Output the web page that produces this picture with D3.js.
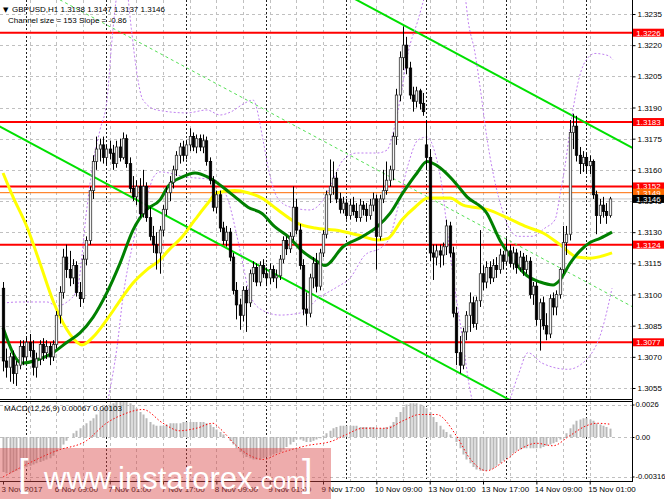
<!DOCTYPE html>
<html><head><meta charset="utf-8">
<script src="https://cdn.jsdelivr.net/npm/d3@7"></script>
<style>
body{margin:0;background:#fff;overflow:hidden;}
svg{display:block;font-family:"Liberation Sans",Arial,sans-serif;}
</style></head><body>
<svg id="c" width="665" height="499"></svg>
<script>
// ---------- DATA ----------
const symbolTitle = "GBPUSD,H1  1.3138 1.3147 1.3137 1.3146";
const channelText = "Channel size = 153 Slope = -0.86";
const macdTitle = "MACD(12,26,9) 0.00067 0.00103";
const opens = [1.3103,1.3068,1.3065,1.3070,1.3062,1.3066,1.3075,1.3070,1.3077,1.3073,1.3065,1.3069,1.3076,1.3072,1.3075,1.3070,1.3076,1.3090,1.3101,1.3118,1.3112,1.3108,1.3114,1.3101,1.3098,1.3117,1.3126,1.3150,1.3164,1.3170,1.3172,1.3166,1.3170,1.3168,1.3163,1.3171,1.3166,1.3175,1.3163,1.3151,1.3147,1.3152,1.3139,1.3152,1.3137,1.3128,1.3124,1.3120,1.3131,1.3141,1.3149,1.3154,1.3160,1.3167,1.3171,1.3167,1.3172,1.3176,1.3171,1.3175,1.3171,1.3174,1.3164,1.3155,1.3142,1.3148,1.3132,1.3126,1.3130,1.3118,1.3102,1.3095,1.3090,1.3102,1.3096,1.3110,1.3113,1.3106,1.3114,1.3110,1.3108,1.3112,1.3108,1.3109,1.3117,1.3126,1.3122,1.3128,1.3142,1.3131,1.3114,1.3093,1.3091,1.3108,1.3115,1.3104,1.3120,1.3129,1.3148,1.3152,1.3156,1.3146,1.3141,1.3144,1.3138,1.3143,1.3140,1.3137,1.3143,1.3141,1.3138,1.3143,1.3146,1.3128,1.3146,1.3150,1.3155,1.3160,1.3176,1.3196,1.3214,1.3220,1.3209,1.3196,1.3193,1.3198,1.3192,1.3172,1.3166,1.3120,1.3118,1.3121,1.3119,1.3123,1.3133,1.3120,1.3091,1.3072,1.3066,1.3082,1.3090,1.3096,1.3086,1.3097,1.3110,1.3106,1.3113,1.3108,1.3114,1.3112,1.3119,1.3116,1.3121,1.3115,1.3120,1.3113,1.3118,1.3112,1.3116,1.3100,1.3104,1.3088,1.3096,1.3085,1.3081,1.3098,1.3094,1.3100,1.3112,1.3125,1.3129,1.3178,1.3181,1.3167,1.3163,1.3166,1.3162,1.3164,1.3148,1.3138,1.3143,1.3140,1.3138];
const highs = [1.3106,1.3074,1.3072,1.3073,1.3068,1.3078,1.3078,1.3080,1.3081,1.3078,1.3072,1.3078,1.3079,1.3078,1.3077,1.3078,1.3092,1.3104,1.3122,1.3124,1.3121,1.3117,1.3116,1.3106,1.3119,1.3128,1.3152,1.3167,1.3176,1.3175,1.3176,1.3172,1.3174,1.3172,1.3174,1.3175,1.3178,1.3177,1.3166,1.3157,1.3155,1.3156,1.3160,1.3154,1.3142,1.3133,1.3130,1.3133,1.3143,1.3152,1.3157,1.3162,1.3169,1.3173,1.3174,1.3174,1.3180,1.3178,1.3177,1.3177,1.3177,1.3176,1.3166,1.3157,1.3150,1.3150,1.3135,1.3133,1.3132,1.3120,1.3106,1.3098,1.3104,1.3104,1.3112,1.3116,1.3115,1.3116,1.3117,1.3113,1.3115,1.3114,1.3112,1.3119,1.3128,1.3128,1.3130,1.3152,1.3146,1.3134,1.3117,1.3101,1.3110,1.3118,1.3120,1.3122,1.3131,1.3150,1.3165,1.3164,1.3159,1.3149,1.3147,1.3146,1.3146,1.3147,1.3144,1.3146,1.3145,1.3144,1.3146,1.3149,1.3148,1.3148,1.3160,1.3164,1.3162,1.3178,1.3199,1.3217,1.3229,1.3224,1.3212,1.3200,1.3200,1.3199,1.3197,1.3184,1.3170,1.3124,1.3124,1.3124,1.3125,1.3136,1.3135,1.3123,1.3094,1.3080,1.3084,1.3092,1.3101,1.3099,1.3099,1.3131,1.3114,1.3116,1.3116,1.3117,1.3118,1.3122,1.3121,1.3127,1.3124,1.3123,1.3122,1.3121,1.3120,1.3119,1.3118,1.3106,1.3106,1.3098,1.3099,1.3091,1.3100,1.3101,1.3102,1.3113,1.3133,1.3133,1.3184,1.3187,1.3186,1.3171,1.3169,1.3168,1.3167,1.3165,1.3150,1.3146,1.3147,1.3144,1.3147];
const lows = [1.3063,1.3060,1.3058,1.3057,1.3056,1.3064,1.3066,1.3068,1.3070,1.3061,1.3060,1.3066,1.3068,1.3069,1.3066,1.3068,1.3074,1.3086,1.3098,1.3108,1.3104,1.3105,1.3099,1.3094,1.3096,1.3114,1.3124,1.3146,1.3160,1.3164,1.3163,1.3162,1.3165,1.3160,1.3161,1.3164,1.3165,1.3161,1.3149,1.3145,1.3143,1.3137,1.3137,1.3135,1.3126,1.3120,1.3112,1.3110,1.3128,1.3138,1.3145,1.3151,1.3157,1.3163,1.3164,1.3165,1.3169,1.3169,1.3168,1.3169,1.3168,1.3162,1.3153,1.3140,1.3139,1.3130,1.3124,1.3123,1.3116,1.3100,1.3088,1.3083,1.3087,1.3082,1.3094,1.3106,1.3104,1.3104,1.3108,1.3104,1.3105,1.3106,1.3103,1.3107,1.3115,1.3119,1.3120,1.3126,1.3129,1.3112,1.3090,1.3085,1.3089,1.3103,1.3101,1.3102,1.3118,1.3127,1.3144,1.3148,1.3144,1.3139,1.3139,1.3136,1.3136,1.3138,1.3135,1.3135,1.3138,1.3135,1.3136,1.3140,1.3112,1.3126,1.3144,1.3148,1.3152,1.3155,1.3172,1.3193,1.3208,1.3206,1.3194,1.3188,1.3190,1.3189,1.3186,1.3160,1.3116,1.3107,1.3114,1.3113,1.3114,1.3119,1.3118,1.3089,1.3066,1.3062,1.3064,1.3078,1.3082,1.3084,1.3083,1.3094,1.3102,1.3103,1.3105,1.3106,1.3108,1.3110,1.3112,1.3114,1.3113,1.3112,1.3110,1.3111,1.3109,1.3110,1.3098,1.3095,1.3085,1.3073,1.3083,1.3078,1.3079,1.3090,1.3090,1.3098,1.3110,1.3119,1.3126,1.3170,1.3164,1.3158,1.3159,1.3158,1.3158,1.3146,1.3129,1.3134,1.3137,1.3134,1.3137];
const closes = [1.3068,1.3065,1.3070,1.3062,1.3066,1.3075,1.3070,1.3077,1.3073,1.3065,1.3069,1.3076,1.3072,1.3075,1.3070,1.3076,1.3090,1.3101,1.3118,1.3112,1.3108,1.3114,1.3101,1.3098,1.3117,1.3126,1.3150,1.3164,1.3170,1.3172,1.3166,1.3170,1.3168,1.3163,1.3171,1.3166,1.3175,1.3163,1.3151,1.3147,1.3152,1.3139,1.3152,1.3137,1.3128,1.3124,1.3120,1.3131,1.3141,1.3149,1.3154,1.3160,1.3167,1.3171,1.3167,1.3172,1.3176,1.3171,1.3175,1.3171,1.3174,1.3164,1.3155,1.3142,1.3148,1.3132,1.3126,1.3130,1.3118,1.3102,1.3095,1.3090,1.3102,1.3096,1.3110,1.3113,1.3106,1.3114,1.3110,1.3108,1.3112,1.3108,1.3109,1.3117,1.3126,1.3122,1.3128,1.3142,1.3131,1.3114,1.3093,1.3091,1.3108,1.3115,1.3104,1.3120,1.3129,1.3148,1.3152,1.3156,1.3146,1.3141,1.3144,1.3138,1.3143,1.3140,1.3137,1.3143,1.3141,1.3138,1.3143,1.3146,1.3128,1.3146,1.3150,1.3155,1.3160,1.3176,1.3196,1.3214,1.3220,1.3209,1.3196,1.3193,1.3198,1.3192,1.3188,1.3166,1.3120,1.3118,1.3121,1.3119,1.3123,1.3133,1.3120,1.3091,1.3072,1.3066,1.3082,1.3090,1.3096,1.3086,1.3097,1.3110,1.3106,1.3113,1.3108,1.3114,1.3112,1.3119,1.3116,1.3121,1.3115,1.3120,1.3113,1.3118,1.3112,1.3116,1.3100,1.3104,1.3088,1.3096,1.3085,1.3081,1.3098,1.3094,1.3100,1.3112,1.3125,1.3129,1.3178,1.3181,1.3167,1.3163,1.3166,1.3162,1.3164,1.3148,1.3138,1.3143,1.3140,1.3138,1.3146];

// moving averages: [bar, price]
const maGreen = [[0,1.3084],[5.7,1.3067],[10.2,1.30685],[15,1.3072],[19.2,1.3077],[23.1,1.30815],[27,1.3089],[31.2,1.3101],[35.1,1.3115],[39,1.3131],[43.2,1.3141],[47.1,1.31455],[49.5,1.3152],[53.7,1.31565],[57.6,1.31585],[61.5,1.31565],[65.7,1.3152],[69.6,1.3147],[73.5,1.3142],[77.7,1.3139],[81.6,1.31325],[85.5,1.3128],[89.7,1.3121],[93.6,1.31166],[96.6,1.3114],[102,1.3123],[108,1.3128],[112.2,1.31325],[116.1,1.3139],[120,1.3149],[124.2,1.31585],[127.2,1.3164],[131.1,1.3161],[135,1.3155],[139.2,1.3147],[145.2,1.3139],[149.1,1.3126],[153,1.31166],[157.2,1.3109],[161.1,1.3106],[165,1.31046],[167.1,1.3107],[170.1,1.3115],[173.1,1.3121],[176.1,1.3125],[179.1,1.3127],[182.7,1.3130]];
const maYellow = [[0,1.31585],[3,1.3147],[7.2,1.31325],[11.1,1.3115],[15,1.3097],[19.2,1.3083],[22.2,1.3077],[23.7,1.30757],[27,1.30795],[31.2,1.3088],[35.1,1.3097],[39,1.31055],[43.2,1.3112],[47.1,1.31166],[49.5,1.3121],[53.7,1.31277],[57.6,1.3136],[61.5,1.3144],[64.2,1.3149],[69.6,1.3150],[73.5,1.3149],[77.7,1.31464],[82.2,1.3141],[88.2,1.31344],[93.6,1.3132],[99.6,1.3131],[106.5,1.31286],[112.5,1.31262],[115.5,1.3127],[119.7,1.3136],[123.6,1.3142],[127.5,1.31464],[134.1,1.31464],[138,1.3143],[145.2,1.3141],[151.2,1.3137],[157.2,1.31325],[162,1.31296],[167.1,1.3124],[172.2,1.3118],[176.1,1.31175],[182.7,1.3120]];
// dashed violet band lines: [bar, price]
const bandUpper = [[0,1.30959],[5.1,1.30964],[13.2,1.30964],[16.2,1.30945],[19.2,1.30964],[22.2,1.31022],[25.2,1.31421],[27,1.31633],[29.1,1.31792],[31.2,1.31936],[32.7,1.32225],[34.2,1.32441],[36.5,1.3252],[38.5,1.3228],[39.6,1.3213],[42,1.31936],[46.2,1.31888],[55.2,1.31874],[61.2,1.31888],[65.1,1.31864],[68.5,1.3188],[72.6,1.31922],[75,1.31936],[78,1.31744],[79.5,1.31614],[82.2,1.31469],[86.1,1.31421],[92.1,1.31407],[96,1.31455],[99,1.31551],[102,1.31647],[106.2,1.31681],[112.2,1.31681],[115.2,1.31695],[117,1.31777],[119.1,1.31936],[121.5,1.32162],[124.5,1.32321],[126.6,1.32441],[128,1.3252]];
const bandUpper2 = [[137.5,1.3252],[138.6,1.32441],[139.5,1.32321],[141.6,1.32162],[143.1,1.3200],[145.2,1.3175],[147.6,1.3154],[149.7,1.3141],[151.5,1.3133],[154.5,1.3128],[158.7,1.3128],[162.6,1.3132],[165.6,1.3136],[167.1,1.3148],[168.6,1.3162],[170.7,1.3186],[172.5,1.3202],[174.6,1.3212],[177.6,1.3216],[181.5,1.3215],[183,1.3213]];
const bandLower = [[31.5,1.30492],[34.2,1.30747],[36,1.30988],[39,1.31248],[41.1,1.31392],[43.2,1.31469],[45,1.31561],[47.1,1.3159],[55.2,1.31565],[63.6,1.31551],[67.5,1.31455],[71.1,1.31214],[74.1,1.30998],[77.7,1.30925],[83.1,1.30901],[89.1,1.30911],[95.1,1.30988],[100.2,1.31036],[104.1,1.31079],[108.6,1.3119],[113.7,1.31229],[116.1,1.31277],[118.5,1.31421],[121.5,1.31623],[124.5,1.31744],[127.2,1.31758],[129.6,1.31681],[131.7,1.31517],[133.5,1.31277],[135.6,1.31022],[137.7,1.30805],[140.1,1.3054],[142.5,1.3040]];
const bandLower2 = [[145.5,1.3040],[150.5,1.3044],[154.5,1.3061],[157.5,1.3072],[161.7,1.3067],[169.5,1.3064],[174.6,1.3068],[179.7,1.3083],[182.7,1.3103]];
// MACD(12,26,9): main line (histogram) per bar, and signal line points
const macdMain = [-0.0028,-0.0029,-0.0029,-0.0028,-0.0027,-0.0026,-0.0025,-0.0024,-0.0023,-0.0022,-0.0021,-0.0020,-0.0019,-0.0018,-0.0017,-0.0015,
-0.0012,-0.0009,-0.0006,-0.0003,0.0000,0.0003,0.0005,0.0007,0.0009,0.0011,0.0013,0.0015,0.0018,0.0021,0.0023,
0.0025,0.0026,0.0027,0.0028,0.0028,0.0028,0.0028,0.0027,0.0025,0.0023,0.0020,0.0018,0.0015,0.0012,0.0010,
0.0009,0.0009,0.0009,0.0010,0.0011,0.0011,0.0011,0.0011,0.0012,0.0012,0.0012,0.0012,0.0012,0.0012,0.0012,
0.0011,0.0010,0.0008,0.0006,0.0004,0.0002,0.0000,-0.0003,-0.0006,-0.0009,-0.0012,-0.0014,-0.0016,-0.0017,-0.0018,
-0.0018,-0.0018,-0.0017,-0.0016,-0.0015,-0.0014,-0.0013,-0.0012,-0.0010,-0.0008,-0.0006,-0.0004,-0.0002,-0.0002,-0.0003,
-0.0004,-0.0004,-0.0003,-0.0002,-0.0001,0.0001,0.0003,0.0005,0.0007,0.0008,0.0009,0.0009,0.0009,0.0009,0.0009,
0.0009,0.0008,0.0008,0.0008,0.0008,0.0008,0.0007,0.0007,0.0007,0.0008,0.0009,0.0012,0.0016,0.0020,0.0024,
0.0026,0.0027,0.0027,0.0027,0.0026,0.0025,0.0023,0.0020,0.0016,0.0012,0.0009,0.0006,0.0004,0.0002,0.0000,
-0.0004,-0.0009,-0.0014,-0.0018,-0.0021,-0.0024,-0.0026,-0.0027,-0.0027,-0.0027,-0.0026,-0.0025,-0.0023,-0.0021,-0.0019,
-0.0017,-0.0015,-0.0013,-0.0011,-0.0010,-0.0009,-0.0009,-0.0009,-0.0009,-0.0009,-0.0009,-0.0008,-0.0007,-0.0006,-0.0005,
-0.0004,-0.0002,0.0000,0.0003,0.0007,0.0010,0.0013,0.0014,0.0015,0.0015,0.0014,0.0013,0.0011,0.0010,0.0009,0.0008,0.00067];
const macdSignal = [[0,-0.0032],[7,-0.0022],[16,-0.0011],[25,-0.0003],[31,0.0011],[36,0.0018],[42,0.0022],[48,0.0011],[53,0.0005],[58,0.0007],[63,0.0011],[65,0.0007],[70,-0.0007],[76,-0.0017],[78,-0.0018],[83,-0.0013],[91,-0.0007],[99,-0.0003],[103,0.0002],[108,0.0007],[115,0.0007],[120,0.0013],[125,0.0018],[130,0.0018],[136,0.0001],[140,-0.0017],[145,-0.0027],[150,-0.0020],[155,-0.0010],[160,-0.0005],[165,-0.0007],[170,0.0001],[175,0.0009],[178,0.0011],[182,0.00103]];
// levels
const redLevels = [1.3226,1.3183,1.3152,1.3124,1.3077];
const orangeLevel = 1.3149;
const bidLevel = 1.3146;
// channel (lower line at bar 0, slope per bar, width)
const channelLower0 = 1.3180, channelSlope = -0.000086, channelSize = 0.0153;
// axes
const priceTicks = [1.3235,1.3220,1.3205,1.3190,1.3175,1.3160,1.3145,1.3130,1.3115,1.3100,1.3085,1.3070,1.3055];
const macdTicks = [0.0026,0,-0.00316];
const macdTickLabels = ["0.0026","0.00","-0.00316"];
const timeBars = [0,16,32,48,64,80,96,112,128,144,160,176];
const timeLabels = ["3 Nov 2017","6 Nov 09:00","7 Nov 01:00","7 Nov 17:00","8 Nov 09:00","9 Nov 01:00","9 Nov 17:00","10 Nov 09:00","13 Nov 01:00","13 Nov 17:00","14 Nov 09:00","15 Nov 01:00"];
const daySeparators = [7,31,55,79,103,127,151,175];
const gridBars = [8,16,24,32,40,48,56,64,72,80,88,96,104,112,120,128,136,144,152,160,168,176];

// ---------- DRAW ----------
const svg = d3.select("#c");
const R = 632, MB = 399, MT = 401, BB = 481;
const x = d3.scaleLinear().domain([0,182]).range([3,609.7]);
const y = d3.scaleLinear().domain([1.3055,1.3235]).range([388,14]);
const ym = d3.scaleLinear().domain([-0.00316,0.0026]).range([476.5,404.5]);

svg.append("rect").attr("width",665).attr("height",499).attr("fill","#fff");
const defs = svg.append("defs");
defs.append("clipPath").attr("id","cm").append("rect").attr("x",0).attr("y",0).attr("width",R).attr("height",MB);
defs.append("clipPath").attr("id","cd").append("rect").attr("x",0).attr("y",MT).attr("width",R).attr("height",BB-MT);

const main = svg.append("g").attr("clip-path","url(#cm)");
const sub = svg.append("g").attr("clip-path","url(#cd)");

// grid
main.selectAll(".hg").data(priceTicks).join("line")
  .attr("x1",0).attr("x2",R).attr("y1",d=>Math.round(y(d))+0.5).attr("y2",d=>Math.round(y(d))+0.5)
  .attr("stroke","#c0c0c0").attr("stroke-dasharray","3,3");
[main,sub].forEach((g,k)=>{
  const y1 = k? MT : 0, y2 = k? BB : MB;
  g.selectAll(".vg").data(gridBars).join("line")
    .attr("x1",d=>Math.round(x(d))+0.5).attr("x2",d=>Math.round(x(d))+0.5).attr("y1",y1).attr("y2",y2)
    .attr("stroke","#c0c0c0").attr("stroke-dasharray","3,3");
  g.selectAll(".ds").data(daySeparators).join("line")
    .attr("x1",d=>Math.round(x(d))+0.5).attr("x2",d=>Math.round(x(d))+0.5).attr("y1",y1).attr("y2",y2)
    .attr("stroke","#202020").attr("stroke-dasharray","2,2");
});
sub.selectAll(".mg").data(macdTicks).join("line")
  .attr("x1",0).attr("x2",R).attr("y1",d=>Math.round(ym(d))+0.5).attr("y2",d=>Math.round(ym(d))+0.5)
  .attr("stroke","#c0c0c0").attr("stroke-dasharray","3,3");

// levels
main.append("line").attr("x1",0).attr("x2",R).attr("y1",y(bidLevel)).attr("y2",y(bidLevel)).attr("stroke","#c8c8c8").attr("stroke-width",1);
main.append("line").attr("x1",0).attr("x2",R).attr("y1",y(orangeLevel)).attr("y2",y(orangeLevel)).attr("stroke","#ff6a00").attr("stroke-width",1);
main.selectAll(".rl").data(redLevels).join("line")
  .attr("x1",0).attr("x2",R).attr("y1",d=>y(d)).attr("y2",d=>y(d)).attr("stroke","#ff0000").attr("stroke-width",2);

// channel
const chAt = (b,off)=>channelLower0+channelSlope*b+off;
const chLine = d3.line().x(d=>x(d[0])).y(d=>y(d[1]));
const chBars = [-2,200];
main.append("path").attr("d",chLine(chBars.map(b=>[b,chAt(b,0)]))).attr("stroke","#00e000").attr("stroke-width",2).attr("fill","none");
main.append("path").attr("d",chLine(chBars.map(b=>[b,chAt(b,channelSize)]))).attr("stroke","#00e000").attr("stroke-width",2).attr("fill","none");
main.append("path").attr("d",chLine(chBars.map(b=>[b,chAt(b,channelSize/2)]))).attr("stroke","#55e055").attr("stroke-width",1).attr("stroke-dasharray","3,3").attr("fill","none");

// bands
const curve = d3.line().x(d=>x(d[0])).y(d=>y(d[1])).curve(d3.curveMonotoneX);
[bandUpper,bandUpper2,bandLower,bandLower2].forEach(b=>{
  main.append("path").attr("d",curve(b)).attr("fill","none").attr("stroke","#c080f0").attr("stroke-width",1).attr("stroke-dasharray","2,2");
});

// MAs
main.append("path").attr("d",curve(maYellow)).attr("fill","none").attr("stroke","#ffff00").attr("stroke-width",3);
main.append("path").attr("d",curve(maGreen)).attr("fill","none").attr("stroke","#008000").attr("stroke-width",3);

// candles
const idx = d3.range(closes.length);
main.selectAll(".wk").data(idx).join("line")
  .attr("x1",i=>Math.round(x(i))+0.5).attr("x2",i=>Math.round(x(i))+0.5)
  .attr("y1",i=>y(highs[i])).attr("y2",i=>y(lows[i])).attr("stroke","#000").attr("stroke-width",1);
main.selectAll(".bd").data(idx).join("rect")
  .attr("x",i=>Math.round(x(i))-0.7).attr("width",2.4)
  .attr("y",i=>y(Math.max(opens[i],closes[i])))
  .attr("height",i=>Math.max(1,Math.abs(y(opens[i])-y(closes[i]))))
  .attr("fill",i=>closes[i]>=opens[i]?"#f4f4f4":"#000")
  .attr("stroke",i=>closes[i]>=opens[i]?"#333":"#000").attr("stroke-width",0.8);

// MACD
sub.selectAll(".hb").data(idx).join("rect")
  .attr("x",i=>Math.round(x(i))-0.5).attr("width",2)
  .attr("y",i=>Math.min(ym(0),ym(macdMain[i])))
  .attr("height",i=>Math.abs(ym(macdMain[i])-ym(0)))
  .attr("fill","#b8b8b8");
sub.append("path").attr("d",d3.line().x(d=>x(d[0])).y(d=>ym(d[1])).curve(d3.curveMonotoneX)(macdSignal))
  .attr("fill","none").attr("stroke","#ff0000").attr("stroke-width",1).attr("stroke-dasharray","1.5,2");

// frames
svg.append("line").attr("x1",R+0.5).attr("x2",R+0.5).attr("y1",0).attr("y2",BB).attr("stroke","#000");
svg.append("line").attr("x1",0).attr("x2",R).attr("y1",MB+0.5).attr("y2",MB+0.5).attr("stroke","#000");
svg.append("line").attr("x1",0).attr("x2",R).attr("y1",MT+0.5).attr("y2",MT+0.5).attr("stroke","#000");
svg.append("line").attr("x1",0).attr("x2",R+1).attr("y1",BB+0.5).attr("y2",BB+0.5).attr("stroke","#000");

// axes
const ay = svg.append("g").attr("transform",`translate(${R+0.5},0)`)
  .call(d3.axisRight(y).tickValues(priceTicks).tickFormat(d3.format(".4f")).tickSize(3).tickPadding(2));
ay.select(".domain").remove();
ay.selectAll("text").attr("font-size",8).attr("fill","#000").attr("font-family","Liberation Sans, Arial, sans-serif");
const am = svg.append("g").attr("transform",`translate(${R+0.5},0)`)
  .call(d3.axisRight(ym).tickValues(macdTicks).tickFormat((d,i)=>macdTickLabels[i]).tickSize(2).tickPadding(1));
am.select(".domain").remove();
am.selectAll("text").attr("font-size",7.6).attr("fill","#000").attr("font-family","Liberation Sans, Arial, sans-serif");
const ax = svg.append("g").attr("transform",`translate(0,${BB+0.5})`)
  .call(d3.axisBottom(x).tickValues(timeBars).tickFormat((d,i)=>timeLabels[i]).tickSize(3).tickPadding(2));
ax.select(".domain").remove();
ax.selectAll("text").attr("font-size",8).attr("fill","#000").attr("text-anchor","start").attr("dx",-2).attr("font-family","Liberation Sans, Arial, sans-serif");

// level labels at right axis
const boxes = redLevels.map(v=>({v,c:"#ff0000"}));
boxes.splice(3,0,{v:orangeLevel,c:"#ff6a00"},{v:bidLevel,c:"#000"});
const bx = svg.selectAll(".bx").data(boxes).join("g").attr("transform",d=>`translate(${R+1},${y(d.v)})`);
bx.append("rect").attr("x",0).attr("y",-4).attr("width",31).attr("height",8).attr("fill",d=>d.c);
bx.append("text").attr("x",15.5).attr("y",3).attr("text-anchor","middle").attr("font-size",8).attr("fill","#fff").text(d=>d.v.toFixed(4));

// header texts
svg.append("text").attr("x",3).attr("y",12).attr("font-size",7).attr("font-family","DejaVu Sans").text("▼");
svg.append("text").attr("x",12).attr("y",12).attr("font-size",8).text(symbolTitle);
svg.append("text").attr("x",8).attr("y",23).attr("font-size",8).text(channelText);
svg.append("text").attr("x",4).attr("y",411).attr("font-size",8).text(macdTitle);

// watermark
const wm = svg.append("g");
wm.append("rect").attr("x",0).attr("y",448).attr("width",331).attr("height",51).attr("fill","#d94848").attr("opacity",0.45);
wm.append("text").attr("x",18).attr("y",486).attr("font-size",38).attr("font-weight","300").attr("fill","#fff").text("[");
wm.append("text").attr("x",44).attr("y",489).attr("font-size",31).attr("fill","#fff").text("www.instaforex");
wm.append("text").attr("x",254).attr("y",489).attr("font-size",24).attr("fill","#fff").text(".com");
wm.append("text").attr("x",302).attr("y",486).attr("font-size",38).attr("fill","#fff").text("]");
</script>
</body></html>
